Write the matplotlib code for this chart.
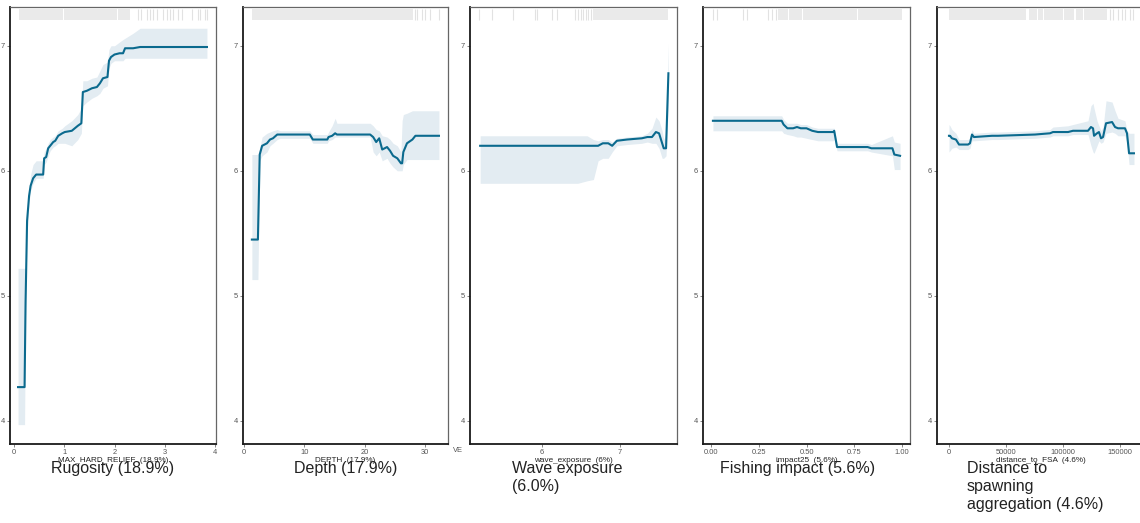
import matplotlib
matplotlib.use("Agg")
import matplotlib.pyplot as plt
import matplotlib.transforms as mtransforms

plt.rcParams['font.family'] = ['Liberation Sans', 'DejaVu Sans']

# ---- data (partial dependence curves) ----
# Rugosity
rug_x = [0.08, 0.21, 0.23, 0.26, 0.30, 0.33, 0.38, 0.44, 0.58, 0.60, 0.64, 0.68, 0.72, 0.78,
         0.82, 0.88, 0.96, 1.01, 1.15, 1.27, 1.34, 1.37, 1.45, 1.55, 1.65, 1.71, 1.77, 1.86,
         1.89, 1.93, 2.00, 2.10, 2.17, 2.21, 2.37, 2.51, 3.84]
rug_y = [4.27, 4.27, 4.95, 5.60, 5.80, 5.88, 5.94, 5.97, 5.97, 6.10, 6.11, 6.18, 6.20, 6.23,
         6.24, 6.28, 6.30, 6.31, 6.32, 6.36, 6.38, 6.63, 6.64, 6.66, 6.67, 6.70, 6.74, 6.75,
         6.88, 6.91, 6.93, 6.94, 6.94, 6.98, 6.98, 6.99, 6.99]
rug_lo = [3.97, 3.97, 4.90, 5.50, 5.75, 5.84, 5.90, 5.94, 5.94, 6.05, 6.07, 6.12, 6.16, 6.19,
          6.20, 6.22, 6.22, 6.22, 6.20, 6.25, 6.30, 6.52, 6.55, 6.58, 6.60, 6.62, 6.66, 6.68,
          6.82, 6.86, 6.88, 6.88, 6.88, 6.90, 6.90, 6.90, 6.90]
rug_hi = [5.22, 5.22, 5.22, 5.70, 5.85, 5.97, 6.05, 6.08, 6.08, 6.15, 6.18, 6.22, 6.25, 6.27,
          6.28, 6.32, 6.34, 6.36, 6.40, 6.45, 6.50, 6.72, 6.72, 6.74, 6.75, 6.80, 6.85, 6.87,
          6.97, 7.00, 7.00, 7.03, 7.05, 7.06, 7.10, 7.14, 7.14]
rug_spans = [(0.10, 0.975), (0.985, 1.285), (1.295, 1.585), (1.595, 1.905), (1.915, 2.05),
             (2.06, 2.20), (2.21, 2.31)]
rug_ticks = [2.47, 2.53, 2.65, 2.71, 2.77, 2.85, 2.97, 3.04, 3.10, 3.16, 3.26, 3.34,
             3.54, 3.66, 3.70, 3.80, 3.84]

# Depth
dep_x = [1.3, 2.3, 2.6, 3.0, 3.8, 4.3, 4.8, 5.5, 6.0, 10.9, 11.4, 13.8, 14.0, 14.6, 15.1,
         15.4, 20.9, 21.4, 21.9, 22.4, 22.9, 23.7, 24.2, 24.7, 25.4, 26.0, 26.2, 26.4, 27.0,
         27.9, 28.4, 32.3]
dep_y = [5.45, 5.45, 6.13, 6.20, 6.22, 6.25, 6.26, 6.29, 6.29, 6.29, 6.25, 6.25, 6.27, 6.28,
         6.30, 6.29, 6.29, 6.27, 6.23, 6.26, 6.17, 6.19, 6.16, 6.12, 6.10, 6.06, 6.06, 6.15,
         6.22, 6.25, 6.28, 6.28]
dep_lo = [5.13, 5.13, 6.08, 6.12, 6.15, 6.20, 6.22, 6.25, 6.26, 6.26, 6.22, 6.22, 6.24, 6.25,
          6.27, 6.27, 6.27, 6.15, 6.12, 6.15, 6.08, 6.10, 6.06, 6.03, 6.00, 6.00, 6.00, 6.05,
          6.09, 6.09, 6.09, 6.09]
dep_hi = [6.13, 6.13, 6.18, 6.27, 6.30, 6.31, 6.32, 6.33, 6.32, 6.32, 6.29, 6.29, 6.31, 6.36,
          6.42, 6.38, 6.38, 6.36, 6.33, 6.32, 6.28, 6.27, 6.25, 6.22, 6.20, 6.15, 6.40, 6.45,
          6.46, 6.48, 6.48, 6.48]
dep_spans = [(1.3, 28.0)]
dep_ticks = [28.4, 28.7, 29.5, 30.0, 30.8, 32.3]

# Wave exposure
wav_x = [5.21, 6.46, 6.58, 6.66, 6.72, 6.78, 6.85, 6.90, 6.96, 7.09, 7.28, 7.35, 7.41, 7.46,
         7.50, 7.54, 7.56, 7.59, 7.62]
wav_y = [6.20, 6.20, 6.20, 6.20, 6.20, 6.22, 6.22, 6.20, 6.24, 6.25, 6.26, 6.27, 6.27, 6.31,
         6.30, 6.22, 6.18, 6.18, 6.78]
wav_lo = [5.90, 5.90, 5.92, 5.93, 6.08, 6.10, 6.10, 6.15, 6.20, 6.21, 6.22, 6.23, 6.22, 6.22,
          6.18, 6.10, 6.10, 6.12, 6.55]
wav_hi = [6.28, 6.28, 6.28, 6.25, 6.24, 6.25, 6.25, 6.23, 6.26, 6.27, 6.28, 6.30, 6.34, 6.43,
          6.40, 6.32, 6.25, 6.30, 7.02]
wav_spans = [(6.65, 7.62)]
wav_ticks = [5.19, 5.36, 5.63, 5.91, 5.94, 6.13, 6.19, 6.42, 6.46, 6.50, 6.53, 6.56, 6.59, 6.63]

# Fishing impact
fis_x = [0.01, 0.37, 0.38, 0.40, 0.43, 0.45, 0.47, 0.50, 0.53, 0.56, 0.64, 0.645, 0.66, 0.82,
         0.84, 0.95, 0.96, 0.99]
fis_y = [6.40, 6.40, 6.37, 6.34, 6.34, 6.35, 6.34, 6.34, 6.32, 6.31, 6.31, 6.32, 6.19, 6.19,
         6.18, 6.18, 6.13, 6.12]
fis_lo = [6.32, 6.32, 6.30, 6.29, 6.28, 6.27, 6.27, 6.26, 6.25, 6.24, 6.24, 6.25, 6.16, 6.16,
          6.15, 6.12, 6.01, 6.01]
fis_hi = [6.44, 6.44, 6.41, 6.38, 6.38, 6.38, 6.37, 6.37, 6.35, 6.34, 6.34, 6.34, 6.22, 6.22,
          6.21, 6.28, 6.23, 6.22]
fis_spans = [(0.35, 0.405), (0.41, 0.475), (0.48, 0.765), (0.77, 1.00)]
fis_ticks = [0.01, 0.03, 0.17, 0.19, 0.30, 0.32, 0.34]

# Distance to FSA
fsa_x = [0, 900, 2600, 6100, 8800, 16700, 18400, 20200, 21900, 37700, 43000, 75400, 88600,
         91200, 104400, 108700, 121900, 124500, 126300, 127200, 129800, 131500, 133300,
         135100, 137700, 143000, 145600, 148200, 154300, 156100, 157900, 162200]
fsa_y = [6.28, 6.28, 6.26, 6.25, 6.21, 6.21, 6.22, 6.29, 6.27, 6.28, 6.28, 6.29, 6.30, 6.31,
         6.31, 6.32, 6.32, 6.35, 6.34, 6.28, 6.30, 6.31, 6.26, 6.27, 6.38, 6.39, 6.35, 6.34,
         6.34, 6.30, 6.14, 6.14]
fsa_lo = [6.15, 6.16, 6.18, 6.19, 6.17, 6.17, 6.18, 6.24, 6.24, 6.25, 6.25, 6.26, 6.27, 6.28,
          6.28, 6.29, 6.29, 6.20, 6.15, 6.14, 6.20, 6.24, 6.22, 6.23, 6.30, 6.31, 6.30, 6.28,
          6.28, 6.22, 6.05, 6.05]
fsa_hi = [6.37, 6.36, 6.33, 6.30, 6.25, 6.25, 6.26, 6.33, 6.30, 6.31, 6.31, 6.32, 6.33, 6.35,
          6.36, 6.37, 6.40, 6.52, 6.54, 6.50, 6.40, 6.36, 6.32, 6.35, 6.56, 6.55, 6.48, 6.42,
          6.40, 6.32, 6.30, 6.30]
fsa_spans = [(0, 67500), (70000, 77000), (78000, 82500), (83500, 100000), (101000, 110000),
             (111000, 117500), (118500, 138600)]
fsa_ticks = [141200, 143800, 148200, 151700, 154300, 158700, 161300]

y_ticks = [4, 5, 6, 7]

LINE = '#0B6A8E'
RIBBON = '#E3ECF2'
RUG = '#EAEAEA'

W, H = 1140, 523
fig = plt.figure(figsize=(W / 100, H / 100), dpi=100)


def px_axes(left, right, top=7, bottom=444):
    return fig.add_axes([left / W, 1 - bottom / H, (right - left) / W, (bottom - top) / H])


def draw_panel(ax, x, y, lo, hi, spans, ticks, xlim, xticks, xticklabels):
    ax.fill_between(x, lo, hi, color=RIBBON, lw=0)
    ax.plot(x, y, color=LINE, lw=1.5, solid_joinstyle='round')
    trans = mtransforms.blended_transform_factory(ax.transData, ax.transAxes)
    for a, b in spans:
        ax.axvspan(a, b, ymin=0.97, ymax=0.995, color=RUG, lw=0)
    ax.vlines(ticks, 0.97, 0.995, transform=trans, color='#E2E2E2', lw=0.8)
    ax.set_xlim(*xlim)
    ax.set_ylim(3.815, 7.31)
    ax.set_xticks(xticks)
    ax.set_xticklabels(xticklabels)
    ax.set_yticks(y_ticks)
    ax.tick_params(labelsize=5.4, colors='#555555', length=2, width=0.5, pad=1.5)
    for s in ['left', 'bottom']:
        ax.spines[s].set_color('#1A1A1A')
        ax.spines[s].set_linewidth(1.3)
    for s in ['top', 'right']:
        ax.spines[s].set_color('#666666')
        ax.spines[s].set_linewidth(0.9)


panels = [
    (10, 216, rug_x, rug_y, rug_lo, rug_hi, rug_spans, rug_ticks, (-0.08, 4.02),
     [0, 1, 2, 3, 4], ['0', '1', '2', '3', '4'],
     'MAX_HARD_RELIEF  (18.9%)', 'Rugosity (18.9%)', 0.5),
    (243, 448, dep_x, dep_y, dep_lo, dep_hi, dep_spans, dep_ticks, (-0.17, 33.8),
     [0, 10, 20, 30], ['0', '10', '20', '30'],
     'DEPTH  (17.9%)', 'Depth (17.9%)', 0.5),
    (470, 677, wav_x, wav_y, wav_lo, wav_hi, wav_spans, wav_ticks, (5.08, 7.73),
     [6, 7], ['6', '7'],
     'wave_exposure  (6%)', 'Wave exposure\n(6.0%)', 0.471),
    (703, 910, fis_x, fis_y, fis_lo, fis_hi, fis_spans, fis_ticks, (-0.042, 1.042),
     [0, 0.25, 0.5, 0.75, 1.0], ['0.00', '0.25', '0.50', '0.75', '1.00'],
     'impact25  (5.6%)', 'Fishing impact (5.6%)', 0.459),
    (937, 1144, fsa_x, fsa_y, fsa_lo, fsa_hi, fsa_spans, fsa_ticks, (-10500, 171000),
     [0, 50000, 100000, 150000], ['0', '50000', '100000', '150000'],
     'distance_to_FSA  (4.6%)', 'Distance to\nspawning\naggregation (4.6%)', 0.473),
]

for (l, r, x, y, lo, hi, spans, ticks, xlim, xt, xtl, small, big, bx) in panels:
    ax = px_axes(l, r)
    draw_panel(ax, x, y, lo, hi, spans, ticks, xlim, xt, xtl)
    cx = (l + r) / 2
    fig.text(cx / W, 1 - 460 / H, small, ha='center', va='center',
             fontsize=5.9, color='#222222')
    fig.text((l + bx * (r - l)) / W, 1 - 461 / H, big, ha='center', va='top',
             multialignment='left', fontsize=11.5, color='#222222', linespacing=1.25)

# clipped fragment of a label between the second and third panels
fig.text(453 / W, 1 - 451 / H, 'VE', ha='left', va='center', fontsize=5.4, color='#555555')

fig.savefig('out.png', dpi=100, facecolor='white')
